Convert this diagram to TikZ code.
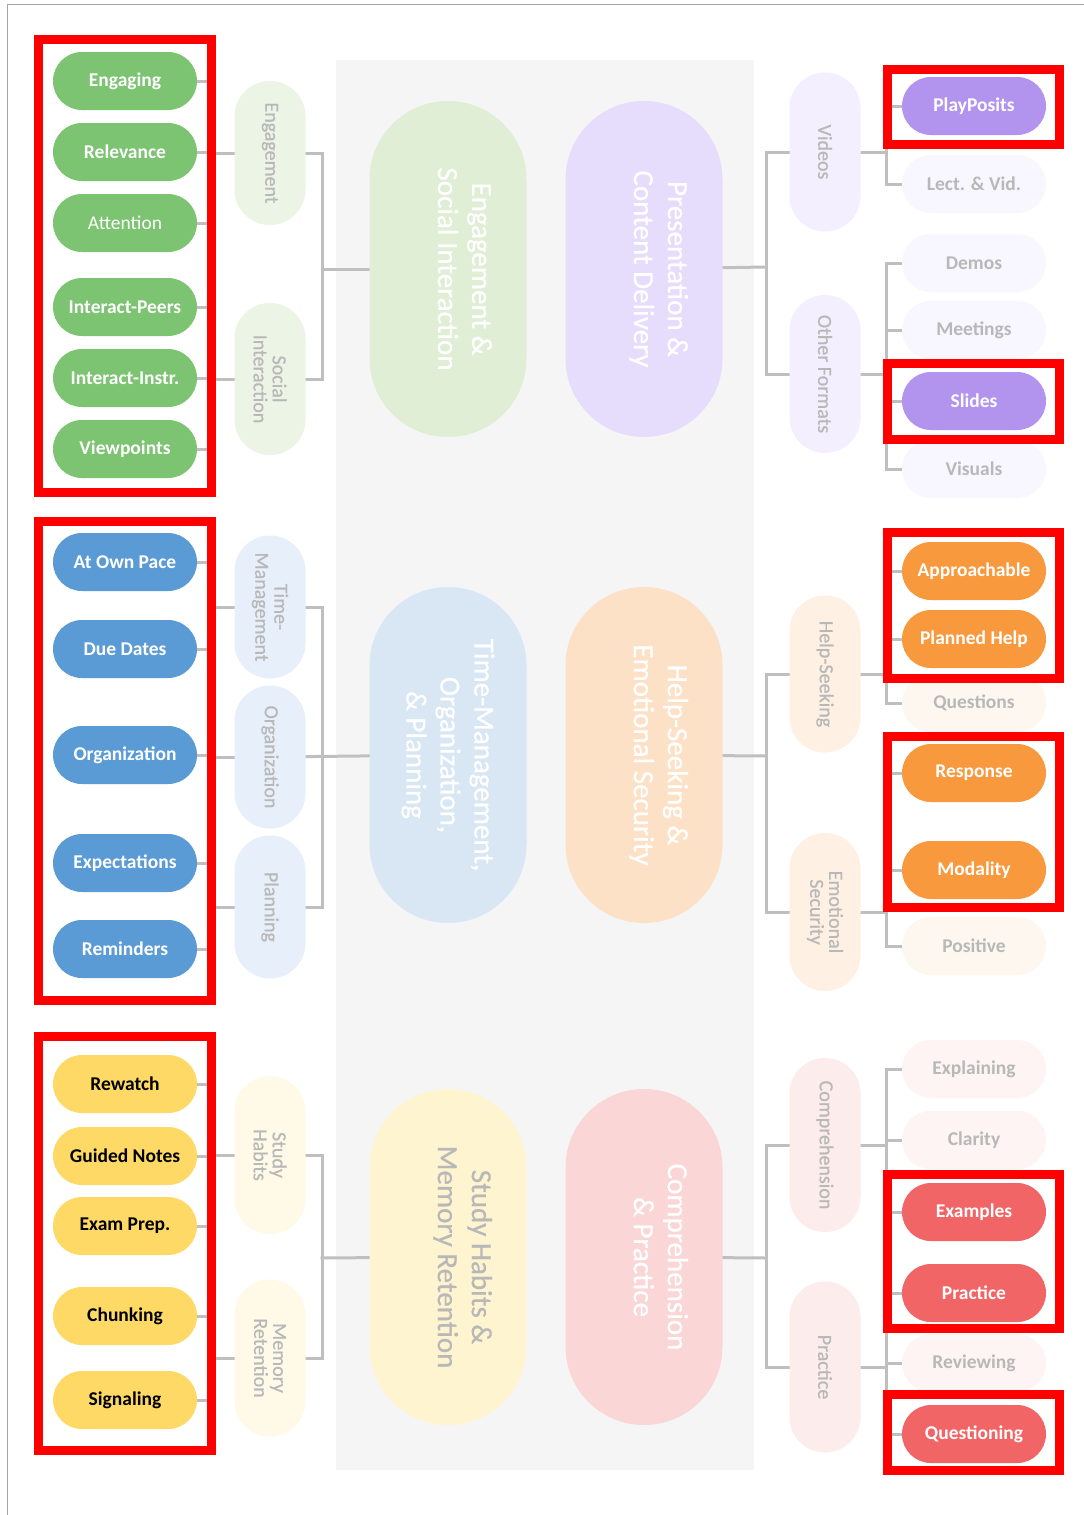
\documentclass[tikz,border=0pt]{standalone}
\usepackage{fontspec}
\setmainfont{Carlito}
\newfontfamily\semifam[FakeBold=0.6]{Carlito}
\pgfdeclarelayer{panel}
\pgfdeclarelayer{wires}
\pgfsetlayers{panel,wires,main}

% leaf colours
\definecolor{leafG}{HTML}{7CC372}
\definecolor{leafB}{HTML}{5B9BD5}
\definecolor{leafY}{HTML}{FFD966}
\definecolor{leafP}{HTML}{B294EE}
\definecolor{leafO}{HTML}{F8993E}
\definecolor{leafR}{HTML}{F26566}
% category colours
\definecolor{bigG}{HTML}{E0EED6}
\definecolor{bigP}{HTML}{E5DDFB}
\definecolor{bigB}{HTML}{D9E7F5}
\definecolor{bigO}{HTML}{FDE1C6}
\definecolor{bigY}{HTML}{FFF4D0}
\definecolor{bigR}{HTML}{FBD6D6}
% sub-category colours
\definecolor{midG}{HTML}{EBF4E5}
\definecolor{midP}{HTML}{F3EFFE}
\definecolor{midB}{HTML}{E7F0FA}
\definecolor{midO}{HTML}{FEF0E3}
\definecolor{midY}{HTML}{FFFAE8}
\definecolor{midR}{HTML}{FDECEC}
% faded leaves
\definecolor{fadeP}{HTML}{F8F6FE}
\definecolor{fadeO}{HTML}{FEF7F0}
\definecolor{fadeR}{HTML}{FEF4F4}
% lines and text
\definecolor{dimtext}{HTML}{B8B8B8}
\definecolor{wirecol}{HTML}{BFBFBF}
\definecolor{panelcol}{HTML}{F5F5F5}
\definecolor{markred}{HTML}{FF0000}
\definecolor{edgecol}{HTML}{A6A6A6}

\newcommand\leafbold{\fontsize{19.5}{22}\selectfont\bfseries}
\newcommand\leafplain{\fontsize{19.5}{22}\selectfont}
\newcommand\midtype{\semifam\fontsize{20}{19}\selectfont}
\newcommand\bigtype{\semifam\fontsize{29}{34}\selectfont}

\begin{document}
\begin{tikzpicture}[x=1pt,y=-1pt,
  pillbase/.style={rectangle, inner sep=0pt, align=center},
  leaf/.style={pillbase, minimum width=144pt, minimum height=58pt,
    rounded corners=28.9pt, font=\leafbold, text=white},
  leafdim/.style={leaf, text=dimtext},
  mid/.style={pillbase, rotate=-90, minimum height=71pt,
    rounded corners=35.4pt, font=\midtype, text=dimtext},
  big/.style={pillbase, rotate=-90, minimum width=336pt, minimum height=157pt,
    rounded corners=78.4pt, font=\bigtype, text=white},
  wire/.style={draw=wirecol, line width=3pt, line cap=rect},
  redbox/.style={draw=markred, line width=9pt}]

\useasboundingbox (0,0) rectangle (1084,1515);

\begin{pgfonlayer}{panel}
  \fill[white] (0,0) rectangle (1084,1515);
  \fill[panelcol] (336,60) rectangle (754,1470);
  \draw[edgecol, line width=1.8pt] (7.5,1515) -- (7.5,4.5) -- (1084,4.5);
\end{pgfonlayer}

% ---------- Engagement & Social Interaction ----------
\node[leaf, fill=leafG] (eng) at (125,81) {Engaging};
\node[leaf, fill=leafG] (rel) at (125,152) {Relevance};
\node[leaf, fill=leafG, font=\leafplain] (att) at (125,223) {Attention};
\node[leaf, fill=leafG] (ipe) at (125,307) {Interact-Peers};
\node[leaf, fill=leafG] (iin) at (125,378) {Interact-Instr.};
\node[leaf, fill=leafG] (vie) at (125,449) {Viewpoints};
\node[mid, fill=midG, minimum width=144pt] (mEng) at (270,153) {Engagement};
\node[mid, fill=midG, minimum width=152pt] (mSoc) at (270,379) {Social\\Interaction};
\node[big, fill=bigG] (bEng) at (448,269) {Engagement \&\\Social Interaction\\\mbox{}};

% ---------- Time-Management, Organization & Planning ----------
\node[leaf, fill=leafB] (pace) at (125,562) {At Own Pace};
\node[leaf, fill=leafB] (due) at (125,649) {Due Dates};
\node[leaf, fill=leafB] (org) at (125,755) {Organization};
\node[leaf, fill=leafB] (expc) at (125,863) {Expectations};
\node[leaf, fill=leafB] (rem) at (125,949) {Reminders};
\node[mid, fill=midB, minimum width=143pt] (mTim) at (270,607) {Time-\\Management};
\node[mid, fill=midB, minimum width=143pt] (mOrg) at (270,757) {Organization};
\node[mid, fill=midB, minimum width=143pt] (mPla) at (270,907) {Planning};
\node[big, fill=bigB] (bTim) at (448,755) {Time-Management,\\Organization,\\\& Planning};

% ---------- Study Habits & Memory Retention ----------
\node[leaf, fill=leafY, text=black] (rew) at (125,1084) {Rewatch};
\node[leaf, fill=leafY, text=black] (gui) at (125,1156) {Guided Notes};
\node[leaf, fill=leafY, text=black] (exa) at (125,1226) {Exam Prep.};
\node[leaf, fill=leafY, text=black] (chu) at (125,1316) {Chunking};
\node[leaf, fill=leafY, text=black] (sig) at (125,1400) {Signaling};
\node[mid, fill=midY, minimum width=158pt] (mStu) at (270,1155) {Study\\Habits};
\node[mid, fill=midY, minimum width=157pt] (mMem) at (270,1358) {Memory\\Retention};
\node[big, fill=bigY, text=dimtext] (bStu) at (448,1257) {Study Habits \&\\Memory Retention\\\mbox{}};

% ---------- Presentation & Content Delivery ----------
\node[big, fill=bigP] (bPre) at (644,269) {Presentation \&\\Content Delivery\\\mbox{}};
\node[mid, fill=midP, minimum width=159pt] (mVid) at (825,152) {Videos};
\node[mid, fill=midP, minimum width=158pt] (mOth) at (825,374) {Other Formats};
\node[leaf, fill=leafP] (pla) at (974,106) {PlayPosits};
\node[leafdim, fill=fadeP] (lec) at (974,184) {Lect. \& Vid.};
\node[leafdim, fill=fadeP] (dem) at (974,263) {Demos};
\node[leafdim, fill=fadeP] (mee) at (974,330) {Meetings};
\node[leaf, fill=leafP] (sli) at (974,401) {Slides};
\node[leafdim, fill=fadeP] (vis) at (974,469) {Visuals};

% ---------- Help-Seeking & Emotional Security ----------
\node[big, fill=bigO] (bHel) at (644,755) {Help-Seeking \&\\Emotional Security\\\mbox{}};
\node[mid, fill=midO, minimum width=157pt] (mHel) at (825,674) {Help-Seeking};
\node[mid, fill=midO, minimum width=158pt] (mEmo) at (825,912) {Emotional\\Security};
\node[leaf, fill=leafO] (app) at (974,571) {Approachable};
\node[leaf, fill=leafO] (plh) at (974,639) {Planned Help};
\node[leafdim, fill=fadeO] (que) at (974,703) {Questions};
\node[leaf, fill=leafO] (res) at (974,773) {Response};
\node[leaf, fill=leafO] (moda) at (974,870) {Modality};
\node[leafdim, fill=fadeO] (pos) at (974,946) {Positive};

% ---------- Comprehension & Practice ----------
\node[big, fill=bigR] (bCom) at (644,1257) {Comprehension\\\& Practice\\\mbox{}};
\node[mid, fill=midR, minimum width=174pt] (mCom) at (825,1145) {Comprehension};
\node[mid, fill=midR, minimum width=171pt] (mPra) at (825,1367) {Practice};
\node[leafdim, fill=fadeR] (expl) at (974,1069) {Explaining};
\node[leafdim, fill=fadeR] (cla) at (974,1140) {Clarity};
\node[leaf, fill=leafR] (exm) at (974,1212) {Examples};
\node[leaf, fill=leafR] (prc) at (974,1293) {Practice};
\node[leafdim, fill=fadeR] (rev) at (974,1363) {Reviewing};
\node[leaf, fill=leafR] (qst) at (974,1434) {Questioning};

% spines and hubs
\coordinate (spL) at (211,0);
\coordinate (spR) at (886,0);
\coordinate (hG) at (322,269);
\coordinate (hB) at (322,756);
\coordinate (hY) at (322,1258);
\coordinate (hP) at (766,267);
\coordinate (hO) at (766,756);
\coordinate (hR) at (766,1258);

\begin{pgfonlayer}{wires}
  % left column
  \foreach \n in {eng,rel,att,ipe,iin,vie,mEng,mSoc,
                  pace,due,org,expc,rem,mTim,mOrg,mPla,
                  rew,gui,exa,chu,sig,mStu,mMem}
    \draw[wire] (\n.center) -- (\n -| spL);
  \draw[wire] (eng -| spL) -- (vie -| spL);
  \draw[wire] (pace -| spL) -- (rem -| spL);
  \draw[wire] (rew -| spL) -- (sig -| spL);
  \draw[wire] (mEng.center) -| (hG) |- (mSoc.center);
  \draw[wire] (hG) -- (bEng.center);
  \draw[wire] (mTim.center) -| (hB) |- (mPla.center);
  \draw[wire] (mOrg.center) -- (bTim.center);
  \draw[wire] (mStu.center) -| (hY) |- (mMem.center);
  \draw[wire] (hY) -- (bStu.center);
  % right column
  \foreach \n in {pla,lec,dem,mee,sli,vis,mVid,mOth,
                  app,plh,que,res,moda,pos,mHel,mEmo,
                  expl,cla,exm,prc,rev,qst,mCom,mPra}
    \draw[wire] (\n.center) -- (\n -| spR);
  \draw[wire] (pla -| spR) -- (lec -| spR);
  \draw[wire] (dem -| spR) -- (vis -| spR);
  \draw[wire] (app -| spR) -- (que -| spR);
  \draw[wire] (res -| spR) -- (pos -| spR);
  \draw[wire] (expl -| spR) -- (exm -| spR);
  \draw[wire] (prc -| spR) -- (qst -| spR);
  \draw[wire] (mVid.center) -| (hP) |- (mOth.center);
  \draw[wire] (hP) -- (bPre.center);
  \draw[wire] (mHel.center) -| (hO) |- (mEmo.center);
  \draw[wire] (hO) -- (bHel.center);
  \draw[wire] (mCom.center) -| (hR) |- (mPra.center);
  \draw[wire] (hR) -- (bCom.center);
\end{pgfonlayer}

% highlight frames
\draw[redbox] (38.5,39.5) rectangle (211.5,492.5);
\draw[redbox] (38.5,521.5) rectangle (211.5,1000.5);
\draw[redbox] (38.5,1036.5) rectangle (211.5,1450.5);
\draw[redbox] (887.5,69.5) rectangle (1059.5,144.5);
\draw[redbox] (887.5,363.5) rectangle (1059.5,439.5);
\draw[redbox] (887.5,532.5) rectangle (1059.5,678.5);
\draw[redbox] (887.5,736.5) rectangle (1059.5,907.5);
\draw[redbox] (887.5,1174.5) rectangle (1059.5,1328.5);
\draw[redbox] (887.5,1394.5) rectangle (1059.5,1470.5);
\end{tikzpicture}
\end{document}
